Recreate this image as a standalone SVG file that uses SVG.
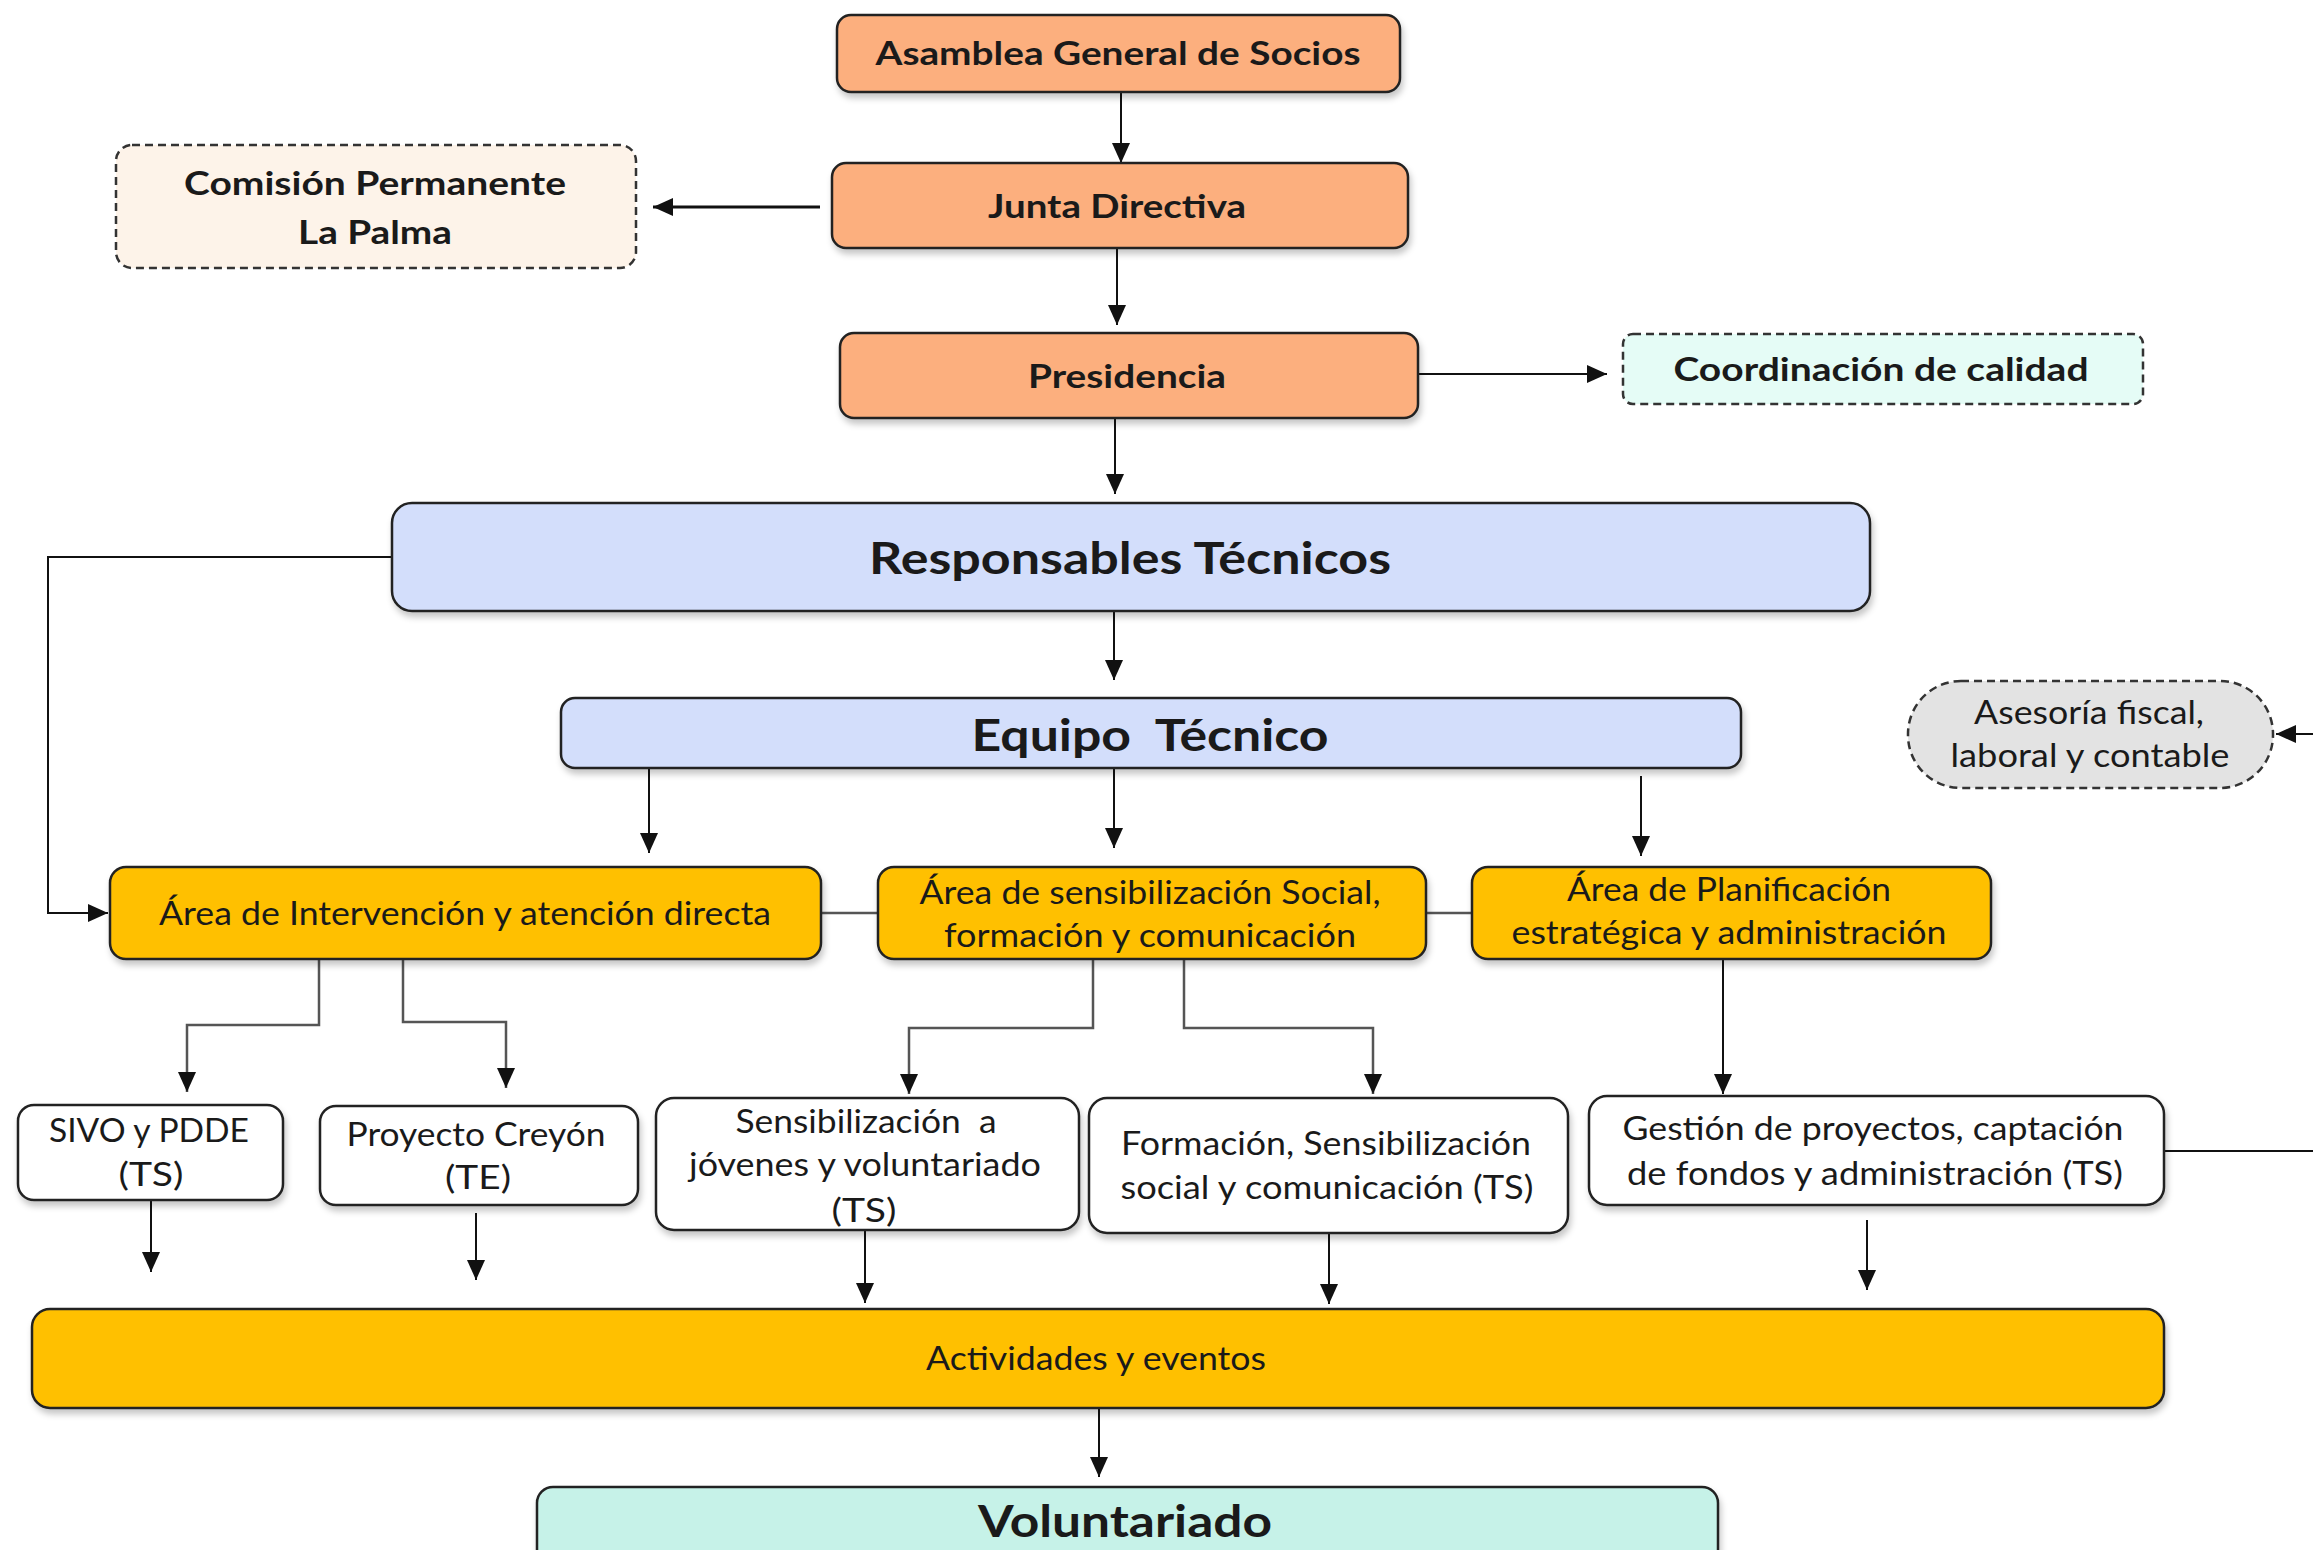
<svg xmlns="http://www.w3.org/2000/svg" width="2313" height="1550" viewBox="0 0 2313 1550">
<defs>
<style>
.box{stroke:#222;stroke-width:2.5;filter:url(#sh)}
.dash{stroke:#333;stroke-width:2.5;stroke-dasharray:8 5}
.org{fill:#FCAF7E}
.blu{fill:#D3DEFB}
.yel{fill:#FFC000}
.wht{fill:#FFFFFF}
.mint{fill:#C6F2E8}
text{font-family:Lato,"Open Sans","Liberation Sans",sans-serif;fill:#1a1a1a;text-anchor:middle}
.b{font-weight:bold;font-size:33px}
.r{font-size:33px}
.big{font-weight:bold;font-size:44px}
.ln{stroke:#111;stroke-width:2;fill:none}
.gl{stroke:#555;stroke-width:2.5;fill:none}
</style>
<filter id="sh" x="-5%" y="-20%" width="110%" height="150%">
<feDropShadow dx="2" dy="5" stdDeviation="3" flood-color="#000" flood-opacity="0.22"/>
</filter>
<marker id="ah" markerUnits="userSpaceOnUse" markerWidth="20" markerHeight="18" refX="20" refY="9" orient="auto">
<path d="M0,0 L20,9 L0,18 z" fill="#111"/>
</marker>
</defs>
<rect width="2313" height="1550" fill="#fff"/>

<g id="connectors">
<line class="ln" x1="1121" y1="93" x2="1121" y2="163" marker-end="url(#ah)"/>
<line class="ln" x1="1117" y1="249" x2="1117" y2="325" marker-end="url(#ah)"/>
<line class="ln" style="stroke-width:3" x1="820" y1="207" x2="653" y2="207" marker-end="url(#ah)"/>
<line class="ln" x1="1418" y1="374" x2="1607" y2="374" marker-end="url(#ah)"/>
<line class="ln" x1="1115" y1="418" x2="1115" y2="494" marker-end="url(#ah)"/>
<line class="ln" x1="1114" y1="611" x2="1114" y2="680" marker-end="url(#ah)"/>
<polyline class="ln" points="392,557 48,557 48,913 108,913" marker-end="url(#ah)"/>
<line class="ln" x1="649" y1="768" x2="649" y2="853" marker-end="url(#ah)"/>
<line class="ln" x1="1114" y1="768" x2="1114" y2="848" marker-end="url(#ah)"/>
<line class="ln" x1="1641" y1="776" x2="1641" y2="856" marker-end="url(#ah)"/>
<line class="ln" x1="2313" y1="734" x2="2276" y2="734" marker-end="url(#ah)"/>
<line class="gl" x1="821" y1="913" x2="878" y2="913"/>
<line class="gl" x1="1426" y1="913" x2="1472" y2="913"/>
<polyline class="gl" points="319,959 319,1025 187,1025 187,1092" marker-end="url(#ah)"/>
<polyline class="gl" points="403,959 403,1022 506,1022 506,1088" marker-end="url(#ah)"/>
<polyline class="gl" points="1093,959 1093,1028 909,1028 909,1094" marker-end="url(#ah)"/>
<polyline class="gl" points="1184,959 1184,1028 1373,1028 1373,1094" marker-end="url(#ah)"/>
<line class="ln" x1="1723" y1="959" x2="1723" y2="1094" marker-end="url(#ah)"/>
<line class="ln" x1="2164" y1="1151" x2="2313" y2="1151"/>
<line class="ln" x1="151" y1="1200" x2="151" y2="1272" marker-end="url(#ah)"/>
<line class="ln" x1="476" y1="1213" x2="476" y2="1280" marker-end="url(#ah)"/>
<line class="ln" x1="865" y1="1230" x2="865" y2="1303" marker-end="url(#ah)"/>
<line class="ln" x1="1329" y1="1233" x2="1329" y2="1304" marker-end="url(#ah)"/>
<line class="ln" x1="1867" y1="1220" x2="1867" y2="1290" marker-end="url(#ah)"/>
<line class="ln" x1="1099" y1="1408" x2="1099" y2="1477" marker-end="url(#ah)"/>
</g>

<g id="asamblea">
<rect class="box org" x="837" y="15" width="563" height="77" rx="14"/>
<text class="b" x="1118" y="65" textLength="485" lengthAdjust="spacingAndGlyphs">Asamblea General de Socios</text>
</g>
<g id="junta">
<rect class="box org" x="832" y="163" width="576" height="85" rx="14"/>
<text class="b" x="1117" y="218" textLength="258" lengthAdjust="spacingAndGlyphs">Junta Directiva</text>
</g>
<g id="comision">
<rect class="dash" fill="#FDF3E9" x="116" y="145" width="520" height="123" rx="16"/>
<text class="b" x="375" y="195" textLength="382" lengthAdjust="spacingAndGlyphs">Comisión Permanente</text>
<text class="b" x="375" y="244" textLength="154" lengthAdjust="spacingAndGlyphs">La Palma</text>
</g>
<g id="presidencia">
<rect class="box org" x="840" y="333" width="578" height="85" rx="14"/>
<text class="b" x="1127" y="388" textLength="198" lengthAdjust="spacingAndGlyphs">Presidencia</text>
</g>
<g id="coordinacion">
<rect class="dash" fill="#E5FCF6" x="1623" y="334" width="520" height="70" rx="10"/>
<text class="b" x="1881" y="381" textLength="415" lengthAdjust="spacingAndGlyphs">Coordinación de calidad</text>
</g>
<g id="responsables">
<rect class="box blu" x="392" y="503" width="1478" height="108" rx="20"/>
<text class="big" x="1130" y="574" textLength="522" lengthAdjust="spacingAndGlyphs">Responsables Técnicos</text>
</g>
<g id="equipo">
<rect class="box blu" x="561" y="698" width="1180" height="70" rx="14"/>
<text class="big" x="1150" y="751" textLength="357" lengthAdjust="spacingAndGlyphs" xml:space="preserve">Equipo  Técnico</text>
</g>
<g id="asesoria">
<rect class="dash" fill="#E3E3E3" x="1908" y="681" width="365" height="107" rx="53"/>
<text class="r" x="2089" y="724" textLength="230" lengthAdjust="spacingAndGlyphs">Asesoría fiscal,</text>
<text class="r" x="2090" y="767" textLength="279" lengthAdjust="spacingAndGlyphs">laboral y contable</text>
</g>
<g id="area-intervencion">
<rect class="box yel" x="110" y="867" width="711" height="92" rx="16"/>
<text class="r" x="465" y="925" textLength="612" lengthAdjust="spacingAndGlyphs">Área de Intervención y atención directa</text>
</g>
<g id="area-sensibilizacion">
<rect class="box yel" x="878" y="867" width="548" height="92" rx="16"/>
<text class="r" x="1150" y="904" textLength="461" lengthAdjust="spacingAndGlyphs">Área de sensibilización Social,</text>
<text class="r" x="1150" y="947" textLength="412" lengthAdjust="spacingAndGlyphs">formación y comunicación</text>
</g>
<g id="area-planificacion">
<rect class="box yel" x="1472" y="867" width="519" height="92" rx="16"/>
<text class="r" x="1729" y="901" textLength="324" lengthAdjust="spacingAndGlyphs">Área de Planificación</text>
<text class="r" x="1729" y="944" textLength="435" lengthAdjust="spacingAndGlyphs">estratégica y administración</text>
</g>
<g id="sivo">
<rect class="box wht" x="18" y="1105" width="265" height="95" rx="16"/>
<text class="r" x="149" y="1142" textLength="200" lengthAdjust="spacingAndGlyphs">SIVO y PDDE</text>
<text class="r" x="151" y="1186" textLength="65" lengthAdjust="spacingAndGlyphs">(TS)</text>
</g>
<g id="creyon">
<rect class="box wht" x="320" y="1106" width="318" height="99" rx="16"/>
<text class="r" x="476" y="1146" textLength="259" lengthAdjust="spacingAndGlyphs">Proyecto Creyón</text>
<text class="r" x="478" y="1189" textLength="66" lengthAdjust="spacingAndGlyphs">(TE)</text>
</g>
<g id="sens-jovenes">
<rect class="box wht" x="656" y="1098" width="423" height="132" rx="18"/>
<text class="r" x="866" y="1133" textLength="261" lengthAdjust="spacingAndGlyphs" xml:space="preserve">Sensibilización  a</text>
<text class="r" x="865" y="1176" textLength="352" lengthAdjust="spacingAndGlyphs">jóvenes y voluntariado</text>
<text class="r" x="864" y="1222" textLength="65" lengthAdjust="spacingAndGlyphs">(TS)</text>
</g>
<g id="formacion">
<rect class="box wht" x="1089" y="1098" width="479" height="135" rx="18"/>
<text class="r" x="1326" y="1155" textLength="410" lengthAdjust="spacingAndGlyphs">Formación, Sensibilización</text>
<text class="r" x="1327" y="1199" textLength="413" lengthAdjust="spacingAndGlyphs">social y comunicación (TS)</text>
</g>
<g id="gestion">
<rect class="box wht" x="1589" y="1096" width="575" height="109" rx="18"/>
<text class="r" x="1873" y="1140" textLength="501" lengthAdjust="spacingAndGlyphs">Gestión de proyectos, captación</text>
<text class="r" x="1875" y="1185" textLength="496" lengthAdjust="spacingAndGlyphs">de fondos y administración (TS)</text>
</g>
<g id="actividades">
<rect class="box yel" x="32" y="1309" width="2132" height="99" rx="18"/>
<text class="r" x="1096" y="1370" textLength="340" lengthAdjust="spacingAndGlyphs">Actividades y eventos</text>
</g>
<g id="voluntariado">
<rect class="box mint" x="537" y="1487" width="1181" height="110" rx="16"/>
<text class="big" x="1125" y="1537" textLength="294" lengthAdjust="spacingAndGlyphs">Voluntariado</text>
</g>
</svg>
